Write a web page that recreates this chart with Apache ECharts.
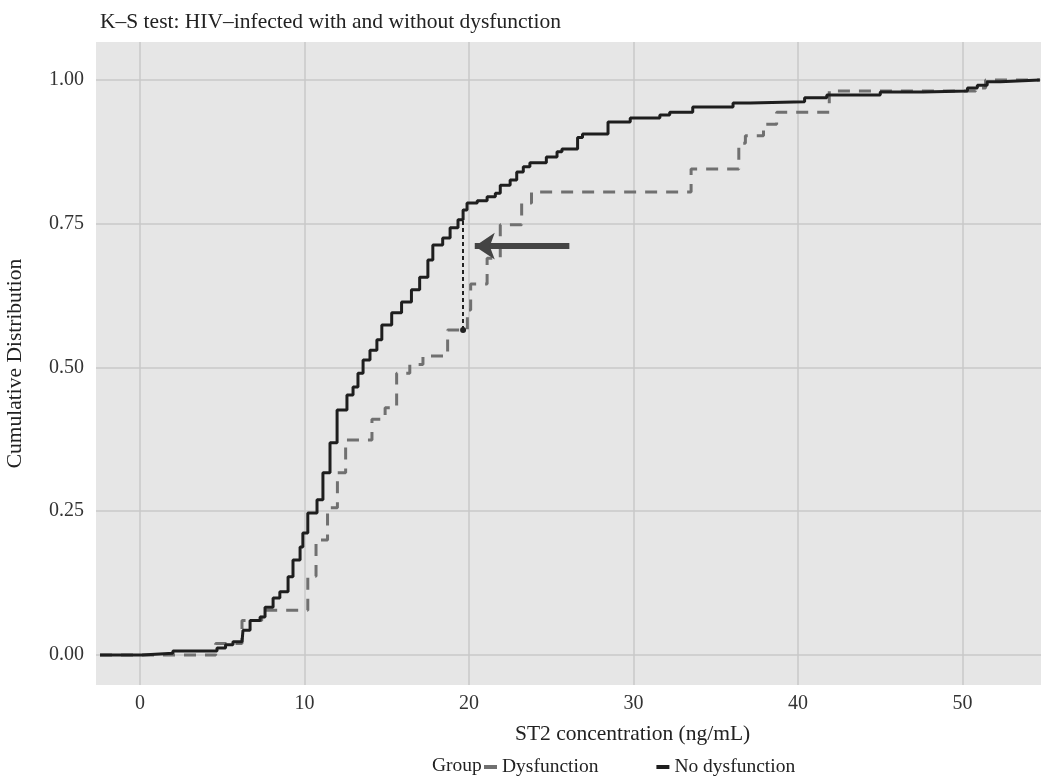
<!DOCTYPE html>
<html>
<head>
<meta charset="utf-8">
<title>K-S test ECDF</title>
<script src="https://cdn.jsdelivr.net/npm/echarts@6/dist/echarts.min.js"></script>
<style>
  html, body { margin: 0; padding: 0; background: #fff; }
  #chart { width: 1041px; height: 782px; }
</style>
</head>
<body>
<div id="chart"></div>
<script>
// ECDF step points (x = ST2 ng/mL, y = cumulative share)
var dysX = [-2.43, 4.6, 6.2, 7.4, 10.2, 10.7, 11.4, 12.0, 12.5, 14.1, 14.9, 15.6, 16.4, 17.2, 18.7, 19.9, 20.1, 21.1, 21.9, 23.2, 23.8, 33.5, 36.4, 36.8, 37.9, 38.7, 41.9, 50.8, 51.4, 54.7];
var dysY = [0, 0.02, 0.06, 0.078, 0.137, 0.2, 0.256, 0.317, 0.374, 0.41, 0.43, 0.49, 0.505, 0.52, 0.565, 0.6, 0.645, 0.69, 0.748, 0.786, 0.805, 0.845, 0.89, 0.903, 0.923, 0.944, 0.981, 0.986, 1.0, 1.0];

var noDysX = [-2.43, 0.12, 2.0, 4.68, 5.2, 5.65, 6.2, 6.26, 6.69, 7.3, 7.6, 8.09, 8.5, 9.0, 9.3, 9.73, 9.9, 10.2, 10.76, 11.12, 11.55, 11.98, 12.58, 12.95, 13.25, 13.56, 13.98, 14.4, 14.7, 15.3, 15.9, 16.5, 17.0, 17.5, 17.8, 18.4, 18.85, 19.33, 19.64, 19.88, 20.5, 21.1, 21.6, 21.9, 22.5, 22.9, 23.3, 23.7, 24.7, 25.35, 25.65, 26.6, 26.9, 28.45, 29.8, 31.6, 32.2, 33.6, 36.05, 37.1, 40.4, 41.75, 45.0, 47.6, 50.3, 50.9, 51.5, 52.3, 54.7];
var noDysY = [0, 0.003, 0.007, 0.012, 0.018, 0.023, 0.026, 0.043, 0.06, 0.066, 0.083, 0.099, 0.11, 0.136, 0.165, 0.188, 0.212, 0.247, 0.27, 0.317, 0.369, 0.426, 0.452, 0.466, 0.49, 0.513, 0.53, 0.548, 0.574, 0.595, 0.614, 0.635, 0.657, 0.687, 0.713, 0.725, 0.743, 0.757, 0.774, 0.786, 0.79, 0.797, 0.803, 0.817, 0.826, 0.84, 0.849, 0.856, 0.866, 0.875, 0.88, 0.9, 0.906, 0.927, 0.934, 0.939, 0.944, 0.953, 0.96, 0.962, 0.969, 0.974, 0.979, 0.981, 0.986, 0.991, 0.997, 1.0, 1.0];

var xTicks = [0, 10, 20, 30, 40, 50];
var yTicks = [0, 0.25, 0.5, 0.75, 1];

// K-S distance (dotted) and the arrow pointing at it
var ksLineX = [19.64, 19.64];
var ksLineY = [0.565, 0.775];
var arrowX = [26.1, 20.35];
var arrowY = [0.711, 0.711];

function zip(xs, ys) {
	var out = [];
	for (var i = 0; i < xs.length; i++) out.push([xs[i], ys[i]]);
	return out;
}

var serif = '"Liberation Serif", "DejaVu Serif", serif';
var chart = echarts.init(document.getElementById('chart'), null, { renderer: 'canvas' });

var option = {
	animation: false,
	backgroundColor: '#fff',
	textStyle: { fontFamily: serif, color: '#333' },
	title: [
		{
			text: 'K–S test: HIV–infected with and without dysfunction',
			left: 100, top: 11, padding: 0,
			textStyle: { fontFamily: serif, fontSize: 21.5, fontWeight: 'normal', color: '#222' }
		},
		{
			text: 'ST2 concentration (ng/mL)',
			left: 515, top: 723, padding: 0,
			textStyle: { fontFamily: serif, fontSize: 21.5, fontWeight: 'normal', color: '#222' }
		},
		{
			text: 'Group',
			left: 432, top: 756, padding: 0,
			textStyle: { fontFamily: serif, fontSize: 19.5, fontWeight: 'normal', color: '#222' }
		}
	],
	legend: {
		data: ['Dysfunction', 'No dysfunction'],
		left: 484, top: 757,
		padding: 0,
		icon: 'rect',
		itemWidth: 13, itemHeight: 4,
		itemGap: 58,
		textStyle: { fontFamily: serif, fontSize: 19.5, color: '#222', padding: [0, 0, 0, 0] }
	},
	grid: {
		left: 96, right: 0, top: 42, bottom: 97,
		show: true, backgroundColor: '#e6e6e6', borderWidth: 0,
		containLabel: false, outerBoundsMode: 'none'
	},
	xAxis: {
		type: 'value',
		min: -2.675, max: 54.77,
		axisLine: { show: false },
		axisTick: { show: false, customValues: xTicks },
		axisLabel: { customValues: xTicks, margin: 9, fontFamily: serif, fontSize: 20, color: '#333' },
		splitLine: { show: true, lineStyle: { color: '#c8c8c8', width: 1.5 } }
	},
	yAxis: {
		type: 'value',
		min: -0.0522, max: 1.066,
		name: 'Cumulative Distribution',
		nameLocation: 'middle', nameRotate: 90, nameGap: 70,
		nameTextStyle: { fontFamily: serif, fontSize: 21.5, color: '#222' },
		axisLine: { show: false },
		axisTick: { show: false, customValues: yTicks },
		axisLabel: {
			customValues: yTicks, margin: 12, fontFamily: serif, fontSize: 20, color: '#333',
			formatter: function (v) { return v.toFixed(2); }
		},
		splitLine: { show: true, lineStyle: { color: '#c8c8c8', width: 1.5 } }
	},
	series: [
		{
			name: 'Dysfunction',
			type: 'line',
			step: 'end',
			showSymbol: false,
			data: zip(dysX, dysY),
			itemStyle: { color: '#707070' },
			lineStyle: { color: '#707070', width: 3, type: [12, 9] },
			markLine: {
				silent: true,
				symbol: ['circle', 'none'],
				symbolSize: 6,
				label: { show: false },
				lineStyle: { color: '#222', width: 2, type: [4, 3] },
				data: [[
					{ coord: [ksLineX[0], ksLineY[0]] },
					{ coord: [ksLineX[1], ksLineY[1]] }
				]]
			}
		},
		{
			name: 'No dysfunction',
			type: 'line',
			step: 'end',
			showSymbol: false,
			data: zip(noDysX, noDysY),
			itemStyle: { color: '#1e1e1e' },
			lineStyle: { color: '#1e1e1e', width: 3 },
			markLine: {
				silent: true,
				symbol: ['none', 'arrow'],
				symbolSize: [20, 20],
				label: { show: false },
				lineStyle: { color: '#444', width: 6, type: 'solid' },
				data: [[
					{ coord: [arrowX[0], arrowY[0]] },
					{ coord: [arrowX[1], arrowY[1]] }
				]]
			}
		}
	]
};

chart.setOption(option);
</script>
</body>
</html>
